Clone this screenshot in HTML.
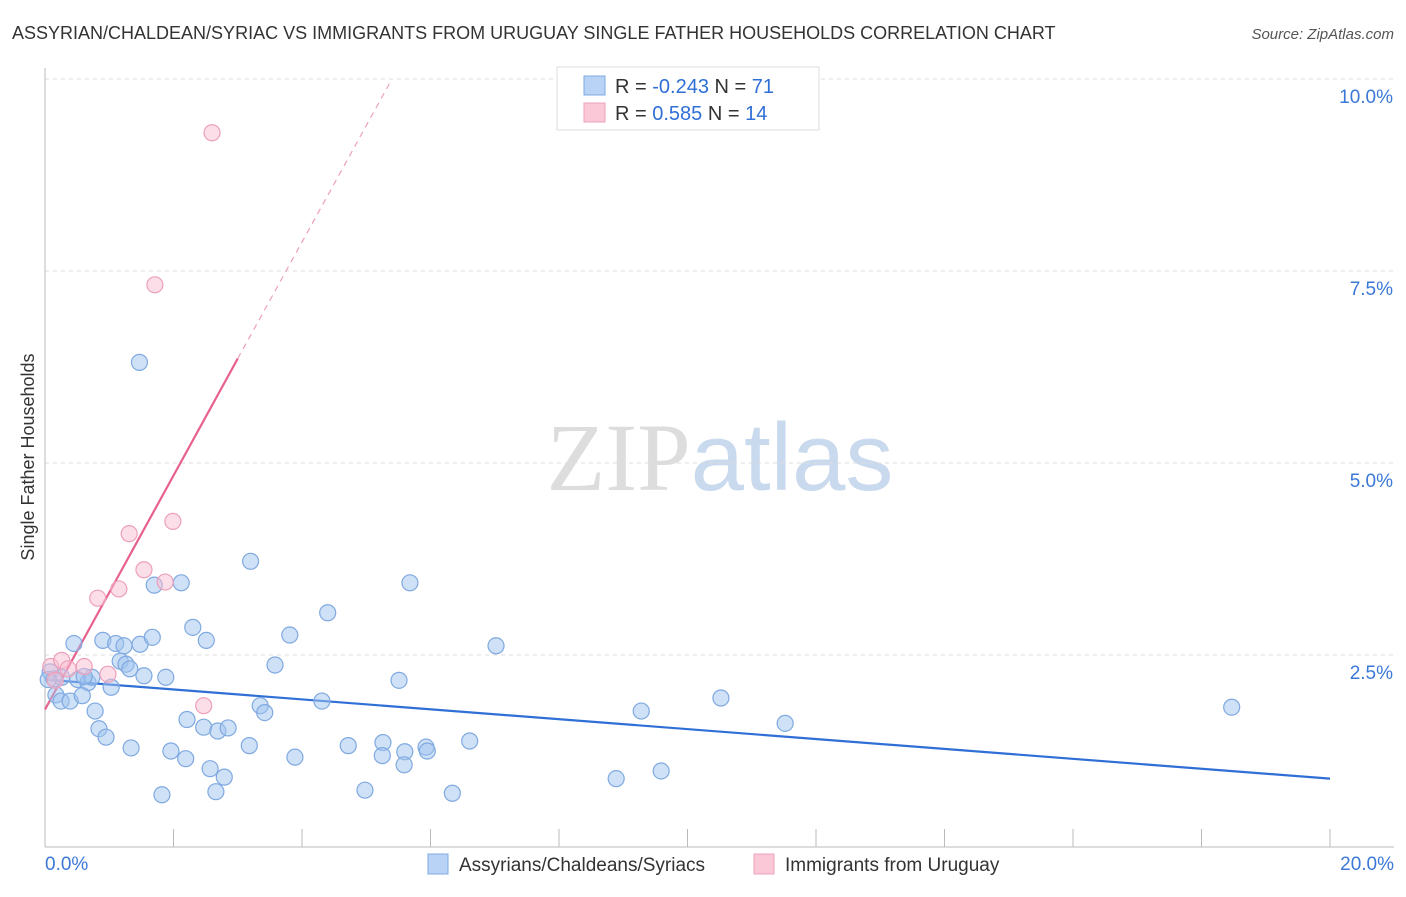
<!DOCTYPE html>
<html><head><meta charset="utf-8"><style>
body{margin:0;background:#fff;font-family:"Liberation Sans",sans-serif;}
svg text{font-family:"Liberation Sans",sans-serif;}
</style></head><body>
<svg id="chart" width="1406" height="892" xmlns="http://www.w3.org/2000/svg">
<text x="12" y="39" font-size="18" fill="#333">ASSYRIAN/CHALDEAN/SYRIAC VS IMMIGRANTS FROM URUGUAY SINGLE FATHER HOUSEHOLDS CORRELATION CHART</text>
<text x="1394" y="39" font-size="15" fill="#555" text-anchor="end" font-style="italic">Source: ZipAtlas.com</text>
<text transform="translate(34,457) rotate(-90)" font-size="18" fill="#333" text-anchor="middle">Single Father Households</text>
<text x="720" y="490" font-size="96" text-anchor="middle"><tspan fill="#ddd" font-family="Liberation Serif">ZIP</tspan><tspan fill="#c9d9ee">atlas</tspan></text>
<g id="grid"></g><g id="axes"></g><g id="trend"></g><g id="pts"></g>
<g>
<rect x="557" y="67" width="262" height="63" fill="#fff" stroke="#ddd"/>
<rect x="584" y="76" width="21" height="19" fill="#b8d3f5" stroke="#7fa9e0"/>
<rect x="584" y="103" width="21" height="19" fill="#fbc8d8" stroke="#eda0ba"/>
<text x="615" y="93" font-size="20" fill="#333">R = <tspan fill="#2f6fd6">-0.243</tspan>   N = <tspan fill="#2f6fd6">71</tspan></text>
<text x="615" y="120" font-size="20" fill="#333">R =   <tspan fill="#2f6fd6">0.585</tspan>   N = <tspan fill="#2f6fd6">14</tspan></text>
</g>
<g>
<rect x="428" y="854" width="20" height="20" fill="#b8d3f5" stroke="#7fa9e0"/>
<text x="459" y="871" font-size="19" fill="#333">Assyrians/Chaldeans/Syriacs</text>
<rect x="754" y="854" width="20" height="20" fill="#fbc8d8" stroke="#eda0ba"/>
<text x="785" y="871" font-size="19" fill="#333">Immigrants from Uruguay</text>
</g>
</svg>
<script>
const xTicks=["0.0%","20.0%"];
const yTickVals=[2.5,5,7.5,10];
const yTickLabels=["2.5%","5.0%","7.5%","10.0%"];
const blueX=[1.47,3.20,2.12,1.70,5.68,4.40,2.30,0.45,0.90,1.10,1.23,1.48,1.67,2.51,3.81,7.02,3.58,1.17,1.26,1.32,1.54,1.88,0.08,0.14,0.26,0.51,0.67,0.73,0.61,1.03,5.51,0.17,0.25,0.39,0.58,0.78,3.35,3.42,4.31,2.21,2.47,2.69,2.85,0.84,0.95,9.28,10.52,11.52,18.47,1.34,1.96,2.19,3.18,4.72,5.26,5.25,5.60,5.93,5.95,6.61,3.89,5.59,2.57,2.79,8.89,9.59,1.82,2.66,4.98,6.34,0.05];
const blueY=[6.31,3.72,3.44,3.41,3.44,3.05,2.86,2.65,2.69,2.65,2.62,2.64,2.73,2.69,2.76,2.62,2.37,2.42,2.38,2.32,2.23,2.21,2.28,2.19,2.21,2.18,2.14,2.21,2.22,2.08,2.17,1.98,1.90,1.90,1.97,1.77,1.84,1.75,1.90,1.66,1.56,1.51,1.55,1.54,1.43,1.77,1.94,1.61,1.82,1.29,1.25,1.15,1.32,1.32,1.36,1.19,1.24,1.30,1.25,1.38,1.17,1.07,1.02,0.91,0.89,0.99,0.68,0.72,0.74,0.70,2.18];
const pinkX=[2.60,1.71,1.99,1.31,1.54,1.87,1.15,0.82,0.09,0.26,0.36,0.61,0.16,0.98,2.47];
const pinkY=[9.30,7.32,4.24,4.08,3.61,3.45,3.36,3.24,2.35,2.43,2.32,2.35,2.17,2.25,1.84];
const blueTrend=[[0,2.18],[20,0.89]];
const pinkTrend=[[0,1.79],[3,6.36],[5.4,10.0]];
const NS="http://www.w3.org/2000/svg";
const xs=v=>45+v*64.25, ys=v=>847-v*76.8;
function mk(t,a,p){const e=document.createElementNS(NS,t);for(const k in a)e.setAttribute(k,a[k]);document.getElementById(p).appendChild(e);return e;}
yTickVals.forEach((v,i)=>{
 const l=mk('line',{x1:45,x2:1394,y1:ys(v),y2:ys(v),stroke:'#ddd','stroke-dasharray':'4,4'},'grid');
 
 
 const t=mk('text',{x:1393,y:ys(v)+24,'font-size':19,fill:'#3b78d8','text-anchor':'end'},'grid');
 
 
 t.textContent=yTickLabels[i];
});
const ax=mk('line',{x1:45,x2:45,y1:68,y2:847,stroke:'#bbb'},'axes');


const bx=mk('line',{x1:45,x2:1394,y1:847,y2:847,stroke:'#bbb'},'axes');


for(let i=0;i<=10;i++){const l=mk('line',{x1:xs(i*2),x2:xs(i*2),y1:829,y2:847,stroke:'#bbb'},'axes');
 
 }
[[0,xTicks[0],'start',45],[20,xTicks[1],'end',1394]].forEach(d=>{const t=mk('text',{x:d[3],y:870,'font-size':19,fill:'#3b78d8','text-anchor':d[2]},'axes');
 
 
 t.textContent=d[1];});
blueX.forEach((x,i)=>{const c=mk('circle',{cx:xs(x),cy:ys(blueY[i]),r:8,fill:'rgba(160,195,240,0.5)',stroke:'#7fa9e0','stroke-width':1.2},'pts');
 
 });
pinkX.forEach((x,i)=>{const c=mk('circle',{cx:xs(x),cy:ys(pinkY[i]),r:8,fill:'rgba(250,190,210,0.5)',stroke:'#eda0ba','stroke-width':1.2},'pts');
 
 });
const bl=mk('line',{x1:xs(blueTrend[0][0]),y1:ys(blueTrend[0][1]),x2:xs(blueTrend[1][0]),y2:ys(blueTrend[1][1]),stroke:'#2f6fd6','stroke-width':2.2},'trend');


const pl=mk('line',{x1:xs(pinkTrend[0][0]),y1:ys(pinkTrend[0][1]),x2:xs(pinkTrend[1][0]),y2:ys(pinkTrend[1][1]),stroke:'#e8608e','stroke-width':2.2},'trend');


const pd=mk('line',{x1:xs(pinkTrend[1][0]),y1:ys(pinkTrend[1][1]),x2:xs(pinkTrend[2][0]),y2:ys(pinkTrend[2][1]),stroke:'#eda0ba','stroke-width':1.2,'stroke-dasharray':'6,5'},'trend');


</script>
</body></html>
